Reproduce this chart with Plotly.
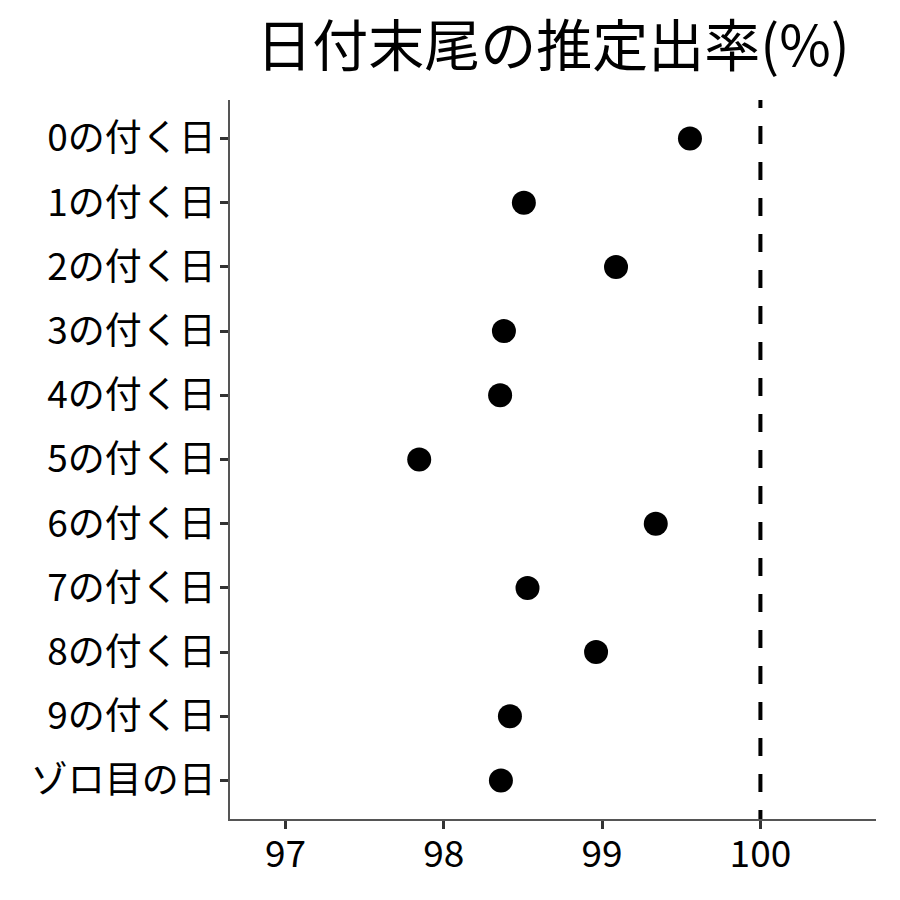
import plotly.graph_objects as go

categories = ["0の付く日", "1の付く日", "2の付く日", "3の付く日", "4の付く日",
              "5の付く日", "6の付く日", "7の付く日", "8の付く日", "9の付く日", "ゾロ目の日"]
values = [99.555, 98.506, 99.088, 98.380, 98.356, 97.845, 99.339, 98.529, 98.962, 98.418, 98.361]
x_ticks = [97, 98, 99, 100]
ref_value = 100
title_text = "日付末尾の推定出率(%)"

FONT = "Noto Sans CJK JP"

# dash pattern drawn from the top of the panel, phase-shifted like the reference
dash_pattern = "8px,18px," + ",".join(["18px,18px"] * 22)

fig = go.Figure()
fig.add_trace(go.Scatter(
    x=values, y=categories, mode="markers",
    marker=dict(size=24, color="black"),
    showlegend=False,
))
fig.add_vline(x=ref_value, y0=1, y1=0,
              line=dict(color="black", width=4, dash=dash_pattern))

fig.update_layout(
    width=900, height=900,
    paper_bgcolor="white", plot_bgcolor="white",
    margin=dict(l=222, r=32, t=92, b=89),
    font=dict(family=FONT, color="black"),
    title=dict(text=title_text, x=0.5, xref="paper", xanchor="center",
               y=1 - 38 / 900, yref="container", yanchor="middle",
               font=dict(size=56, family=FONT, color="black")),
)
fig.update_xaxes(
    range=[96.65, 100.73], tickvals=x_ticks, ticktext=[str(v) for v in x_ticks],
    showgrid=False, zeroline=False,
    showline=True, linecolor="#555555", linewidth=1.5,
    ticks="outside", ticklen=8, tickwidth=3, tickcolor="#333333",
    ticklabelstandoff=-6,
    tickfont=dict(size=37, family=FONT, color="black"),
)
fig.update_yaxes(
    type="category", categoryorder="array", categoryarray=categories,
    range=[len(categories) - 0.4, -0.6],
    showgrid=False, zeroline=False,
    showline=True, linecolor="#555555", linewidth=1.5,
    ticks="outside", ticklen=8, tickwidth=3, tickcolor="#333333",
    ticklabelstandoff=-3,
    tickfont=dict(size=37, family=FONT, color="black"),
)
fig.write_html("out.html")
